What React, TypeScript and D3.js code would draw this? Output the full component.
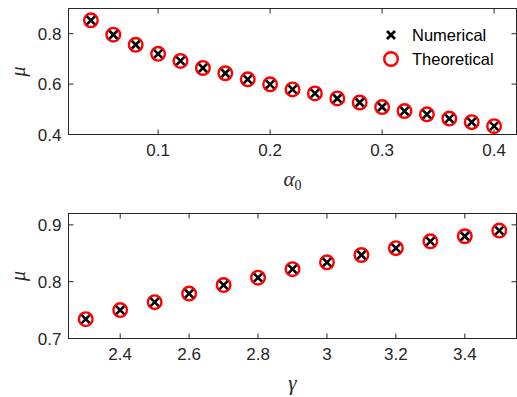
import React from "react";
import * as d3 from "d3";

const alpha0 = [0.04, 0.06, 0.08, 0.1, 0.12, 0.14, 0.16, 0.18, 0.2, 0.22, 0.24, 0.26, 0.28, 0.3, 0.32, 0.34, 0.36, 0.38, 0.4];
const muAlphaNum = [0.853, 0.796, 0.756, 0.72, 0.692, 0.664, 0.643, 0.619, 0.599, 0.579, 0.563, 0.543, 0.527, 0.509, 0.493, 0.48, 0.463, 0.449, 0.433];
const muAlphaTheo = [0.853, 0.796, 0.756, 0.72, 0.692, 0.664, 0.643, 0.619, 0.599, 0.579, 0.563, 0.543, 0.527, 0.509, 0.493, 0.48, 0.463, 0.449, 0.433];

const gammaVals = [2.3, 2.4, 2.5, 2.6, 2.7, 2.8, 2.9, 3.0, 3.1, 3.2, 3.3, 3.4, 3.5];
const muGammaNum = [0.734, 0.75, 0.764, 0.779, 0.794, 0.807, 0.822, 0.834, 0.847, 0.859, 0.871, 0.88, 0.89];
const muGammaTheo = [0.734, 0.75, 0.764, 0.779, 0.794, 0.807, 0.822, 0.834, 0.847, 0.859, 0.871, 0.88, 0.89];

const topXTicks = [0.1, 0.2, 0.3, 0.4];
const topYTicks = [0.4, 0.6, 0.8];
const botXTicks = [2.4, 2.6, 2.8, 3.0, 3.2, 3.4];
const botYTicks = [0.7, 0.8, 0.9];

const legendLabels = ["Numerical", "Theoretical"];

const AX = "#262626";
const FONT = "'Liberation Sans', Arial, Helvetica, sans-serif";
const SERIF = "'Liberation Serif', 'Times New Roman', serif";

type PanelProps = {
  x: d3.ScaleLinear<number, number>;
  y: d3.ScaleLinear<number, number>;
  xs: number[];
  num: number[];
  theo: number[];
  xTicks: number[];
  yTicks: number[];
  xFmt: (v: number) => string;
  yFmt: (v: number) => string;
  xLabel: React.ReactNode;
  legend?: boolean;
};

function Cross({ cx, cy }: { cx: number; cy: number }) {
  const s = 4;
  return (
    <g stroke="#000" strokeWidth={2.6}>
      <line x1={cx - s} y1={cy - s} x2={cx + s} y2={cy + s} />
      <line x1={cx - s} y1={cy + s} x2={cx + s} y2={cy - s} />
    </g>
  );
}

function Panel({ x, y, xs, num, theo, xTicks, yTicks, xFmt, yFmt, xLabel, legend }: PanelProps) {
  const [x0, x1] = x.range();
  const [y0, y1] = y.range();
  const tl = 5;
  return (
    <g>
      <rect x={x0} y={y1} width={x1 - x0} height={y0 - y1} fill="#fff" stroke={AX} strokeWidth={1} />
      {xTicks.map((t) => (
        <g key={"xt" + t}>
          <line x1={x(t)} x2={x(t)} y1={y0} y2={y0 - tl} stroke={AX} />
          <line x1={x(t)} x2={x(t)} y1={y1} y2={y1 + tl} stroke={AX} />
          <text x={x(t)} y={y0 + 21} textAnchor="middle" fontSize={17} fontFamily={FONT} fill={AX}>
            {xFmt(t)}
          </text>
        </g>
      ))}
      {yTicks.map((t) => (
        <g key={"yt" + t}>
          <line x1={x0} x2={x0 + tl} y1={y(t)} y2={y(t)} stroke={AX} />
          <line x1={x1} x2={x1 - tl} y1={y(t)} y2={y(t)} stroke={AX} />
          <text x={x0 - 7} y={y(t)} dy="0.36em" textAnchor="end" fontSize={17} fontFamily={FONT} fill={AX}>
            {yFmt(t)}
          </text>
        </g>
      ))}
      {xs.map((v, i) => (
        <circle key={"c" + i} cx={x(v)} cy={y(theo[i])} r={6.8} fill="none" stroke="#ff0000" strokeWidth={2.4} />
      ))}
      {xs.map((v, i) => (
        <Cross key={"x" + i} cx={x(v)} cy={y(num[i])} />
      ))}
      <text
        transform={`translate(${x0 - 44},${(y0 + y1) / 2}) rotate(-90)`}
        textAnchor="middle"
        fontSize={20}
        fontFamily={SERIF}
        fontStyle="italic"
        fill={AX}
      >
        μ
      </text>
      <g transform={`translate(${(x0 + x1) / 2},${y0 + 51})`}>{xLabel}</g>
      {legend && (
        <g>
          <Cross cx={391} cy={35} />
          <text x={412} y={35} dy="0.36em" fontSize={16.5} fontFamily={FONT} fill="#000">
            {legendLabels[0]}
          </text>
          <circle cx={391} cy={59} r={6.8} fill="none" stroke="#ff0000" strokeWidth={2.4} />
          <text x={412} y={59} dy="0.36em" fontSize={16.5} fontFamily={FONT} fill="#000">
            {legendLabels[1]}
          </text>
        </g>
      )}
    </g>
  );
}

export default function App() {
  const xTop = d3.scaleLinear().domain([0.02, 0.42]).range([68.5, 516.5]);
  const yTop = d3.scaleLinear().domain([0.4, 0.9]).range([134.5, 8.5]);
  const xBot = d3.scaleLinear().domain([2.25, 3.55]).range([68.5, 516.5]);
  const yBot = d3.scaleLinear().domain([0.7, 0.92]).range([338.5, 213.5]);
  const f1 = (v: number) => d3.format(".1f")(v);
  const fg = (v: number) => (Math.abs(v - Math.round(v)) < 1e-9 ? String(Math.round(v)) : d3.format(".1f")(v));
  return (
    <svg width={517} height={397} style={{ position: "absolute", left: 0, top: 0, background: "#fff" }}>
      <rect width={517} height={397} fill="#fff" />
      <Panel
        x={xTop}
        y={yTop}
        xs={alpha0}
        num={muAlphaNum}
        theo={muAlphaTheo}
        xTicks={topXTicks}
        yTicks={topYTicks}
        xFmt={f1}
        yFmt={f1}
        legend
        xLabel={
          <text textAnchor="middle" fontSize={21} fontFamily={SERIF} fill={AX}>
            <tspan fontStyle="italic">α</tspan>
            <tspan fontSize={14} dy={4}>0</tspan>
          </text>
        }
      />
      <Panel
        x={xBot}
        y={yBot}
        xs={gammaVals}
        num={muGammaNum}
        theo={muGammaTheo}
        xTicks={botXTicks}
        yTicks={botYTicks}
        xFmt={fg}
        yFmt={f1}
        xLabel={
          <text textAnchor="middle" fontSize={21} fontFamily={SERIF} fontStyle="italic" fill={AX}>
            γ
          </text>
        }
      />
    </svg>
  );
}
